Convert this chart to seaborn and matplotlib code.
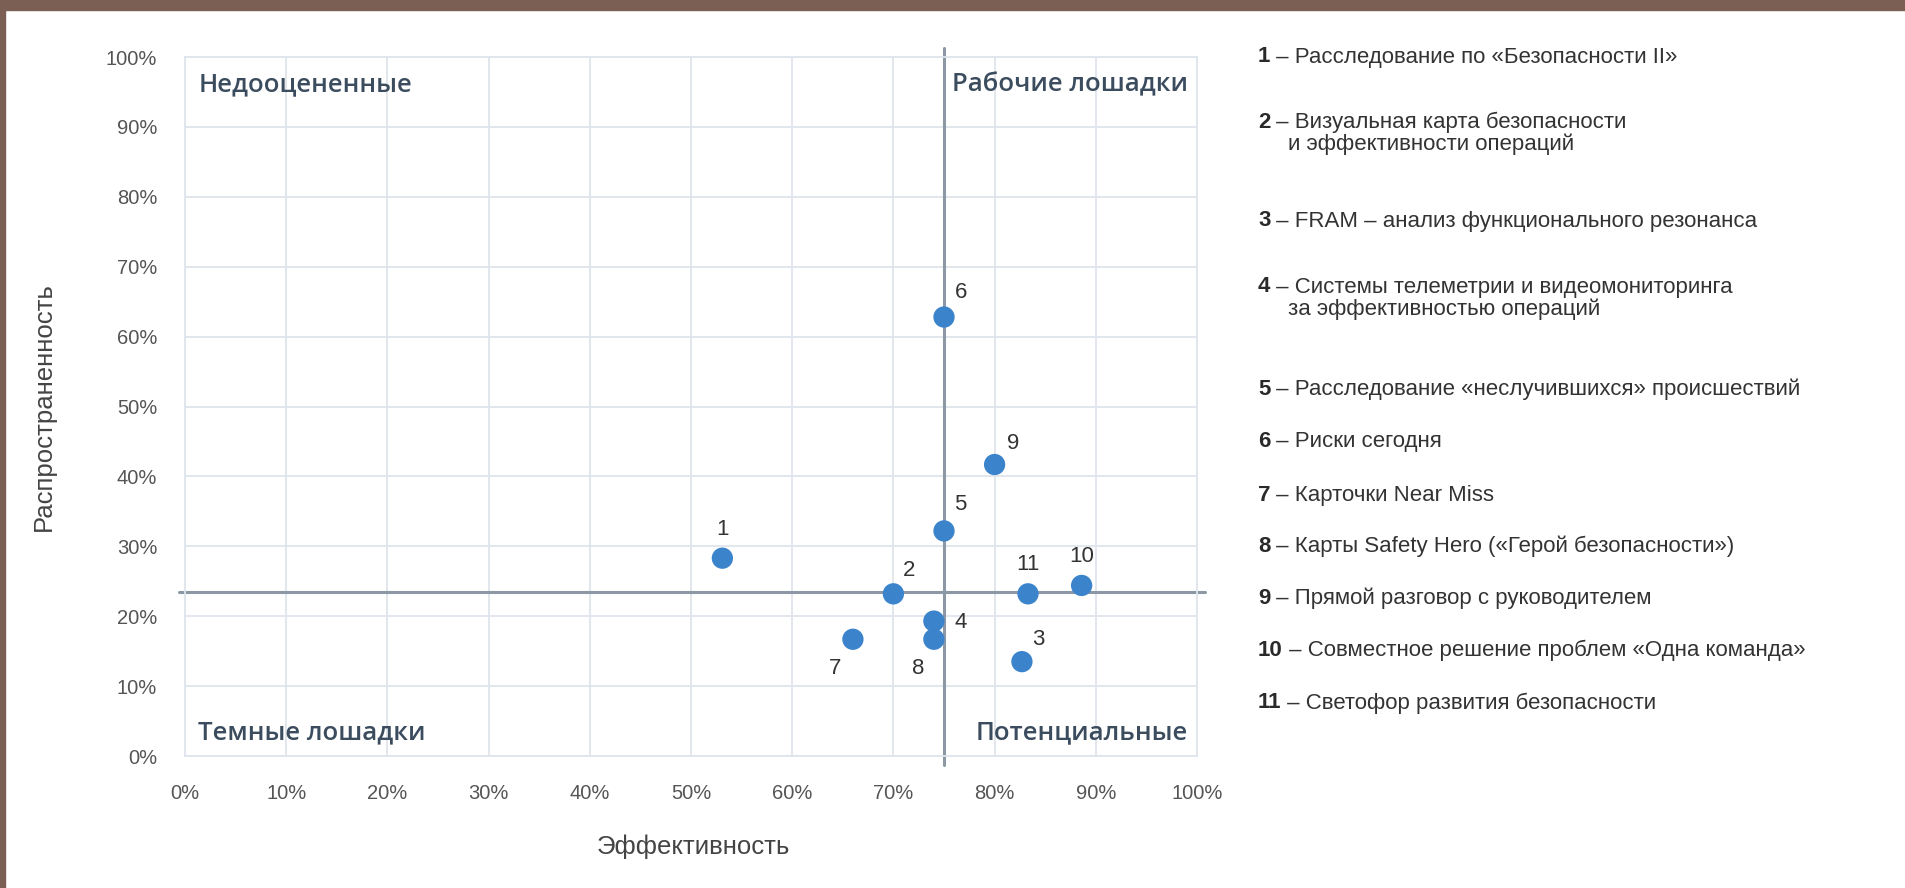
import matplotlib
matplotlib.use("Agg")
import matplotlib.pyplot as plt
from matplotlib import font_manager
import seaborn as sns
import pandas as pd

# ---- data -----------------------------------------------------------------
point_ids = ["1", "2", "3", "4", "5", "6", "7", "8", "9", "10", "11"]
effectiveness = [53.1, 70.0, 82.7, 74.0, 75.0, 75.0, 66.0, 74.0, 80.0, 88.6, 83.3]
prevalence = [28.3, 23.2, 13.5, 19.3, 32.2, 62.8, 16.7, 16.7, 41.7, 24.4, 23.2]

x_split = 75.0
y_split = 23.4

tick_values = [0, 10, 20, 30, 40, 50, 60, 70, 80, 90, 100]
tick_labels = [f"{v}%" for v in tick_values]

quadrant_names = ["Недооцененные", "Рабочие лошадки", "Темные лошадки", "Потенциальные"]

legend_numbers = ["1", "2", "3", "4", "5", "6", "7", "8", "9", "10", "11"]
legend_texts = [
    "Расследование по «Безопасности II»",
    "Визуальная карта безопасности\nи эффективности операций",
    "FRAM – анализ функционального резонанса",
    "Системы телеметрии и видеомониторинга\nза эффективностью операций",
    "Расследование «неслучившихся» происшествий",
    "Риски сегодня",
    "Карточки Near Miss",
    "Карты Safety Hero («Герой безопасности»)",
    "Прямой разговор с руководителем",
    "Совместное решение проблем «Одна команда»",
    "Светофор развития безопасности",
]

# offsets (points) of the number printed beside each marker
label_offsets = {
    "1": (0, 21), "2": (11, 17), "3": (12, 16), "4": (19, -1), "5": (12, 19),
    "6": (12, 18), "7": (-13, -21), "8": (-11, -21), "9": (13, 15),
    "10": (0, 21), "11": (0, 21),
}

# ---- fonts ----------------------------------------------------------------
available = {f.name for f in font_manager.fontManager.ttflist}
narrow = "Liberation Sans Narrow" if "Liberation Sans Narrow" in available else "Liberation Sans"
quad_font = "Open Sans" if "Open Sans" in available else "DejaVu Sans"

sns.set_theme(style="white")
plt.rcParams["font.family"] = [narrow, "DejaVu Sans"]

df = pd.DataFrame({"id": point_ids, "eff": effectiveness, "prev": prevalence})

fig = plt.figure(figsize=(19.06, 8.88), dpi=100)
fig.patch.set_facecolor("white")

# brown frame on the top and left edges
frame_col = "#7b5f55"
fig.patches.append(plt.Rectangle((0, 1 - 10 / 888), 1, 10 / 888, transform=fig.transFigure,
                                 color=frame_col, zorder=0))
fig.patches.append(plt.Rectangle((0, 0), 5 / 1906, 1, transform=fig.transFigure,
                                 color=frame_col, zorder=0))

ax = fig.add_axes([185 / 1906, 1 - 756 / 888, (1197 - 185) / 1906, (756 - 57) / 888])

grid_col = "#dfe5ec"
ax.set_xlim(0, 100)
ax.set_ylim(0, 100)
ax.set_xticks(tick_values)
ax.set_yticks(tick_values)
ax.set_xticklabels(tick_labels)
ax.set_yticklabels(tick_labels)
ax.grid(True, color=grid_col, linewidth=1.3)
ax.set_axisbelow(True)
for s in ax.spines.values():
    s.set_color(grid_col)
    s.set_linewidth(1.3)
ax.tick_params(axis="both", length=0, labelsize=14.5, labelcolor="#555555")
ax.tick_params(axis="x", pad=20)
ax.tick_params(axis="y", pad=20)

# dividing lines between the quadrants
line_col = "#8c98a5"
ax.plot([x_split, x_split], [-1.3, 101.3], color=line_col, lw=2.2, clip_on=False, zorder=2)
ax.plot([-0.6, 100.8], [y_split, y_split], color=line_col, lw=2.2, clip_on=False, zorder=2)

sns.scatterplot(data=df, x="eff", y="prev", ax=ax, s=235, color="#3b84cc",
                edgecolor="none", zorder=3, legend=False)

for pid, xv, yv in zip(point_ids, effectiveness, prevalence):
    dx, dy = label_offsets[pid]
    ax.annotate(pid, (xv, yv), xytext=(dx, dy), textcoords="offset points",
                ha="center", va="center", fontsize=16, color="#333333")

qkw = dict(fontsize=18.5, color="#3b4c5f", family=[quad_font, "DejaVu Sans"], fontweight="semibold")
ax.text(1.3, 96, quadrant_names[0], ha="left", va="center", **qkw)
ax.text(99.1, 96, quadrant_names[1], ha="right", va="center", **qkw)
ax.text(1.3, 3.3, quadrant_names[2], ha="left", va="center", **qkw)
ax.text(99.1, 3.3, quadrant_names[3], ha="right", va="center", **qkw)

ax.set_xlabel("Эффективность", fontsize=18.5, color="#444444",
              family=["Liberation Sans", "DejaVu Sans"])
ax.set_ylabel("Распространенность", fontsize=18.5, color="#444444",
              family=["Liberation Sans", "DejaVu Sans"])
ax.xaxis.set_label_coords(0.502, -0.112)
ax.yaxis.set_label_coords(-0.128, 0.5)

# numbered legend on the right
legend_y = [57, 122, 221, 287, 389, 441, 495, 546, 598, 650, 703]
lsize = 16
for num, txt, ypx in zip(legend_numbers, legend_texts, legend_y):
    t = fig.text(1258 / 1906, 1 - ypx / 888, num, fontsize=lsize, fontweight="bold",
                 color="#2a2a2a", ha="left", va="center")
    first, *rest = txt.split("\n")
    fig.add_artist(matplotlib.text.Annotation(
        f" – {first}", xy=(1, 0.5), xycoords=t, ha="left", va="center",
        fontsize=lsize, color="#333333", annotation_clip=False))
    for k, extra in enumerate(rest, start=1):
        fig.text(1288 / 1906, 1 - (ypx + 22 * k) / 888, extra, fontsize=lsize,
                 color="#333333", ha="left", va="center")

fig.savefig("out.png", dpi=100, facecolor="white")
